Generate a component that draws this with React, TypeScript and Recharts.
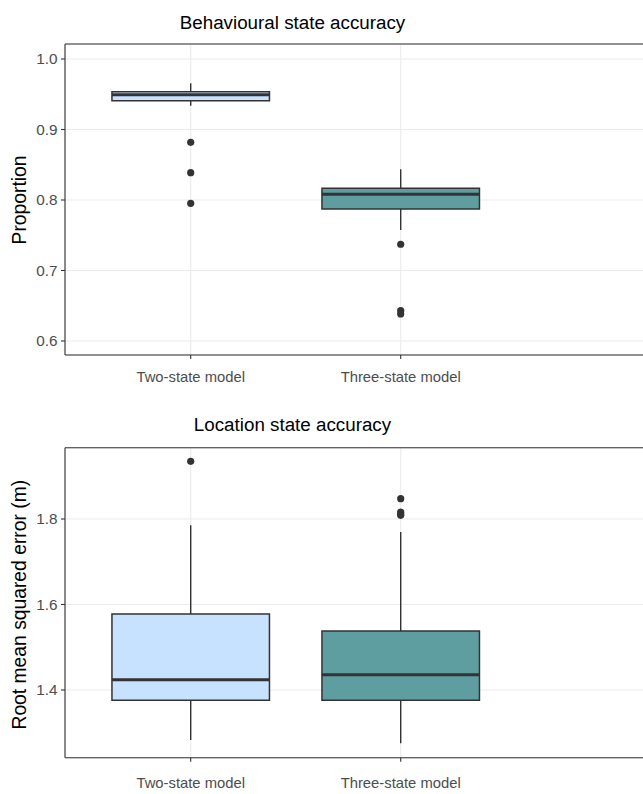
import React from 'react';
import {
  ComposedChart,
  XAxis,
  YAxis,
  CartesianGrid,
  ReferenceArea,
  ReferenceLine,
  Scatter,
} from 'recharts';

// ---------- data ----------
const categories = ['Two-state model', 'Three-state model'];
const fills = ['#C6E2FF', '#5F9EA0'];

// Behavioural state accuracy (Proportion)
const behavLow = [0.9338, 0.7574];
const behavQ1 = [0.9409, 0.7872];
const behavMedian = [0.9494, 0.8081];
const behavQ3 = [0.9536, 0.8166];
const behavHigh = [0.9655, 0.8435];
const behavOutTwo = [0.8818, 0.8387, 0.7953];
const behavOutThree = [0.7372, 0.643, 0.6383];
const behavTicks = [0.6, 0.7, 0.8, 0.9, 1.0];
const behavMinor = [0.65, 0.75, 0.85, 0.95];
const behavDomain = [0.5801, 1.0213];

// Location state accuracy (RMSE, m)
const locLow = [1.283, 1.2753];
const locQ1 = [1.3759, 1.3759];
const locMedian = [1.4241, 1.4358];
const locQ3 = [1.5778, 1.538];
const locHigh = [1.7853, 1.7696];
const locOutTwo = [1.935];
const locOutThree = [1.8475, 1.8164, 1.812, 1.8087];
const locTicks = [1.4, 1.6, 1.8];
const locMinor = [1.3, 1.5, 1.7, 1.9];
const locDomain = [1.2416, 1.9668];

const xDomain = [0.4014, 3.3776];
const xTicks = categories.map((_, i) => i + 1);

const FONT = '"Liberation Sans", Arial, Helvetica, sans-serif';
const DARK = '#333333';
const CHART_W = 700;

type PanelProps = {
  top: number;
  height: number;
  marginTop: number;
  xAxisHeight: number;
  xTickMargin: number;
  domain: number[];
  ticks: number[];
  minor: number[];
  low: number[];
  q1: number[];
  med: number[];
  q3: number[];
  high: number[];
  outliers: number[][];
};

function Panel(props: PanelProps) {
  const { top, height, marginTop, xAxisHeight, xTickMargin, domain, ticks, minor, low, q1, med, q3, high, outliers } =
    props;
  const points = outliers.flatMap((arr, i) => arr.map((v) => ({ x: i + 1, y: v })));
  const half = 0.375;
  return (
    <div style={{ position: 'absolute', left: 0, top, width: CHART_W, height }}>
      <ComposedChart
        width={CHART_W}
        height={height}
        margin={{ top: marginTop, right: 10, bottom: 0, left: 0 }}
        style={{ fontFamily: FONT }}
      >
        <CartesianGrid stroke="#EBEBEB" strokeWidth={1.1} />
        <CartesianGrid stroke="#EBEBEB" strokeWidth={0.8} vertical={false} yAxisId="minor" />
        <XAxis
          type="number"
          dataKey="x"
          domain={xDomain}
          ticks={xTicks}
          allowDataOverflow
          interval={0}
          height={xAxisHeight}
          tickSize={4}
          tickMargin={xTickMargin}
          tickFormatter={(v: number) => categories[v - 1]}
          axisLine={{ stroke: DARK, strokeWidth: 1.1 }}
          tickLine={{ stroke: DARK, strokeWidth: 1.1 }}
          tick={{ fill: '#4D4D4D', fontSize: 14.8, fontFamily: FONT }}
        />
        <YAxis
          type="number"
          dataKey="y"
          domain={domain}
          ticks={ticks}
          allowDataOverflow
          interval={0}
          width={65}
          tickSize={4}
          tickMargin={3.5}
          tickFormatter={(v: number) => v.toFixed(1)}
          axisLine={{ stroke: DARK, strokeWidth: 1.1 }}
          tickLine={{ stroke: DARK, strokeWidth: 1.1 }}
          tick={{ fill: '#4D4D4D', fontSize: 15.3, fontFamily: FONT }}
        />
        <YAxis
          yAxisId="minor"
          orientation="right"
          type="number"
          domain={domain}
          ticks={minor}
          allowDataOverflow
          interval={0}
          width={0}
          tick={false}
          tickLine={false}
          axisLine={false}
        />
        {categories.map((c, i) => (
          <ReferenceLine
            key={'wl' + c}
            segment={[{ x: i + 1, y: low[i] }, { x: i + 1, y: q1[i] }]}
            stroke={DARK}
            strokeWidth={1.4}
          />
        ))}
        {categories.map((c, i) => (
          <ReferenceLine
            key={'wh' + c}
            segment={[{ x: i + 1, y: q3[i] }, { x: i + 1, y: high[i] }]}
            stroke={DARK}
            strokeWidth={1.4}
          />
        ))}
        {categories.map((c, i) => (
          <ReferenceArea
            key={'box' + c}
            x1={i + 1 - half}
            x2={i + 1 + half}
            y1={q1[i]}
            y2={q3[i]}
            fill={fills[i]}
            fillOpacity={1}
            stroke={DARK}
            strokeWidth={1.5}
            ifOverflow="visible"
          />
        ))}
        {categories.map((c, i) => (
          <ReferenceLine
            key={'med' + c}
            segment={[{ x: i + 1 - half, y: med[i] }, { x: i + 1 + half, y: med[i] }]}
            stroke={DARK}
            strokeWidth={3}
          />
        ))}
        <Scatter
          data={points}
          dataKey="y"
          isAnimationActive={false}
          shape={(p: any) => <circle cx={p.cx} cy={p.cy} r={3.6} fill={DARK} />}
        />
        <ReferenceLine y={domain[1]} stroke={DARK} strokeWidth={1.1} ifOverflow="visible" />
      </ComposedChart>
    </div>
  );
}

export default function App() {
  return (
    <div
      style={{
        position: 'absolute',
        left: 0,
        top: 0,
        width: 643,
        height: 794,
        overflow: 'hidden',
        background: '#ffffff',
      }}
    >
      <Panel
        top={0}
        height={400}
        marginTop={44}
        xAxisHeight={45}
        xTickMargin={12.5}
        domain={behavDomain}
        ticks={behavTicks}
        minor={behavMinor}
        low={behavLow}
        q1={behavQ1}
        med={behavMedian}
        q3={behavQ3}
        high={behavHigh}
        outliers={[behavOutTwo, behavOutThree]}
      />
      <Panel
        top={400}
        height={394}
        marginTop={47.7}
        xAxisHeight={36.3}
        xTickMargin={16}
        domain={locDomain}
        ticks={locTicks}
        minor={locMinor}
        low={locLow}
        q1={locQ1}
        med={locMedian}
        q3={locQ3}
        high={locHigh}
        outliers={[locOutTwo, locOutThree]}
      />
      <svg
        width={643}
        height={794}
        style={{ position: 'absolute', left: 0, top: 0, pointerEvents: 'none' }}
      >
        <text x={292.5} y={29} textAnchor="middle" fontSize={18.8} fill="#000" fontFamily={FONT}>
          Behavioural state accuracy
        </text>
        <text x={292.5} y={431} textAnchor="middle" fontSize={18.8} fill="#000" fontFamily={FONT}>
          Location state accuracy
        </text>
        <text
          transform="translate(26,200) rotate(-90)"
          textAnchor="middle"
          fontSize={19.3}
          fill="#000"
          fontFamily={FONT}
        >
          Proportion
        </text>
        <text
          transform="translate(26,604.7) rotate(-90)"
          textAnchor="middle"
          fontSize={19.3}
          fill="#000"
          fontFamily={FONT}
        >
          Root mean squared error (m)
        </text>
      </svg>
    </div>
  );
}
